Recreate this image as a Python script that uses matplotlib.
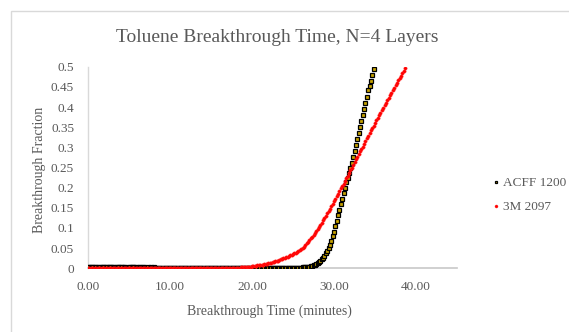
import matplotlib
matplotlib.use("Agg")
import matplotlib.pyplot as plt
import numpy as np
from matplotlib.patches import Rectangle

# Samples were logged every 10 seconds
SAMPLE_INTERVAL_MIN = 10 / 60

# ACFF 1200 breakthrough fraction, one value per sample
acff_1200 = [
    0.003, 0.004, 0.003, 0.003, 0.002, 0.004, 0.003, 0.003, 0.001, 0.003,
    0.004, 0.003, 0.002, 0.003, 0.003, 0.004, 0.003, 0.002, 0.003, 0.003,
    0.000, 0.003, 0.004, 0.003, 0.003, 0.002, 0.003, 0.003, 0.000, 0.000,
    0.003, 0.004, 0.003, 0.003, 0.002, 0.003, 0.000, 0.003, 0.003, 0.000,
    0.002, 0.003, 0.000, 0.000, 0.003, 0.000, 0.002, 0.000, 0.003,
    0, 0, 0, 0, 0, 0, 0, 0, 0, 0, 0, 0, 0, 0, 0, 0, 0,
    0, 0, 0, 0, 0, 0, 0, 0, 0, 0, 0, 0, 0, 0, 0, 0, 0,
    0, 0, 0, 0, 0, 0, 0, 0, 0, 0, 0, 0, 0, 0, 0, 0, 0,
    0, 0, 0, 0, 0, 0, 0, 0, 0, 0, 0, 0, 0, 0, 0, 0, 0,
    0, 0, 0, 0, 0, 0, 0, 0, 0, 0, 0, 0, 0, 0, 0, 0, 0,
    0, 0, 0, 0, 0, 0, 0, 0, 0, 0, 0, 0, 0, 0, 0, 0, 0,
    0.000, 0.000, 0.001, 0.000, 0.001,
    0.001, 0.002, 0.002, 0.002, 0.003, 0.003,
    0.004, 0.005, 0.006, 0.007, 0.009, 0.011,
    0.012, 0.015, 0.018, 0.022, 0.026, 0.031,
    0.037, 0.044, 0.051, 0.059, 0.068, 0.079,
    0.091, 0.104, 0.117, 0.131, 0.145, 0.159,
    0.173, 0.187, 0.200, 0.213, 0.225, 0.237,
    0.249, 0.262, 0.276, 0.290, 0.305, 0.320,
    0.335, 0.351, 0.366, 0.381, 0.396, 0.411,
    0.426, 0.441, 0.453, 0.465, 0.480, 0.494,
]

# 3M 2097 breakthrough fraction, one value per sample
m3_2097 = [
    0, 0, 0, 0, 0, 0, 0, 0, 0, 0, 0, 0, 0, 0, 0, 0, 0, 0, 0, 0,
    0, 0, 0, 0, 0, 0, 0, 0, 0, 0, 0, 0, 0, 0, 0, 0, 0, 0, 0, 0,
    0, 0, 0, 0, 0, 0, 0, 0, 0, 0, 0, 0, 0, 0, 0, 0, 0, 0, 0, 0,
    0, 0, 0, 0, 0, 0, 0, 0, 0, 0, 0, 0, 0, 0, 0, 0, 0, 0, 0, 0,
    0, 0, 0, 0, 0, 0, 0, 0, 0, 0, 0, 0, 0, 0, 0, 0, 0, 0, 0, 0,
    0, 0, 0, 0, 0, 0, 0, 0, 0,
    0.001, 0.001, 0.001, 0.002, 0.002,
    0.002, 0.003, 0.003, 0.003, 0.004, 0.004,
    0.005, 0.005, 0.006, 0.006, 0.007, 0.007,
    0.008, 0.008, 0.009, 0.010, 0.011, 0.011,
    0.012, 0.013, 0.014, 0.015, 0.016, 0.017,
    0.018, 0.019, 0.021, 0.022, 0.023, 0.025,
    0.026, 0.027, 0.029, 0.030, 0.032, 0.034,
    0.035, 0.037, 0.039, 0.041, 0.043, 0.045,
    0.048, 0.051, 0.054, 0.058, 0.062, 0.066,
    0.070, 0.074, 0.078, 0.083, 0.087, 0.092,
    0.097, 0.102, 0.107, 0.113, 0.119, 0.124,
    0.130, 0.136, 0.142, 0.148, 0.154, 0.160,
    0.166, 0.172, 0.179, 0.185, 0.191, 0.198,
    0.204, 0.210, 0.217, 0.223, 0.230, 0.237,
    0.243, 0.250, 0.256, 0.263, 0.270, 0.276,
    0.283, 0.290, 0.296, 0.302, 0.309, 0.316,
    0.322, 0.329, 0.335, 0.342, 0.348, 0.354,
    0.361, 0.367, 0.373, 0.380, 0.386, 0.392,
    0.398, 0.404, 0.411, 0.417, 0.423, 0.429,
    0.435, 0.441, 0.448, 0.454, 0.460, 0.466,
    0.472, 0.478, 0.484, 0.490, 0.496,
]

series_names = ["ACFF 1200", "3M 2097"]
x_ticks = [0, 10, 20, 30, 40]
y_ticks = [0, 0.05, 0.1, 0.15, 0.2, 0.25, 0.3, 0.35, 0.4, 0.45, 0.5]
y_tick_labels = ["0", "0.05", "0.1", "0.15", "0.2", "0.25", "0.3", "0.35",
                 "0.4", "0.45", "0.5"]

t_acff = np.arange(len(acff_1200)) * SAMPLE_INTERVAL_MIN
t_3m = np.arange(len(m3_2097)) * SAMPLE_INTERVAL_MIN

TEXT = "#595959"
FONT = "Liberation Serif"
W, H = 569, 332

fig = plt.figure(figsize=(W / 100, H / 100), dpi=100)
fig.patch.set_facecolor("white")

# chart-area border (top and left edges visible)
fig.add_artist(Rectangle((10.5 / W, -0.2), 2.0, 1.2 - 10.5 / H,
                         transform=fig.transFigure, fill=False,
                         edgecolor="#d9d9d9", lw=1.0))

ax = fig.add_axes([88 / W, (H - 268.3) / H, (457 - 88) / W, (268.3 - 66.7) / H])

ax.plot(t_acff, acff_1200, linestyle="none", marker="s", markersize=2.2,
        markerfacecolor="#c9a400", markeredgecolor="black",
        markeredgewidth=0.9, label=series_names[0], zorder=3)
ax.plot(t_3m, m3_2097, linestyle="none", marker="o", markersize=2.4,
        markerfacecolor="#ff0000", markeredgecolor="#ff2020",
        markeredgewidth=0.3, label=series_names[1], zorder=4)

ax.set_xlim(0, 45)
ax.set_ylim(0, 0.5)
ax.set_xticks(x_ticks)
ax.set_xticklabels([f"{v:.2f}" for v in x_ticks])
ax.set_yticks(y_ticks)
ax.set_yticklabels(y_tick_labels)
ax.tick_params(length=0, labelsize=9.5, labelcolor=TEXT)
ax.tick_params(axis="y", pad=10)
ax.tick_params(axis="x", pad=9)
for lab in ax.get_xticklabels() + ax.get_yticklabels():
    lab.set_family(FONT)

for s in ["top", "right"]:
    ax.spines[s].set_visible(False)
ax.spines["left"].set_color("#d9d9d9")
ax.spines["bottom"].set_color("#c8c8c8")
ax.spines["left"].set_linewidth(1.0)
ax.spines["bottom"].set_linewidth(1.2)

fig.text(277 / W, 1 - 37 / H, "Toluene Breakthrough Time, N=4 Layers",
         ha="center", va="center", fontsize=14, color=TEXT, family=FONT)
fig.text(269 / W, 1 - 311 / H, "Breakthrough Time (minutes)",
         ha="center", va="center", fontsize=10, color=TEXT, family=FONT)
fig.text(40 / W, 1 - 170 / H, "Breakthrough Fraction", rotation=90,
         ha="center", va="center", fontsize=10, color=TEXT, family=FONT)

leg = fig.legend(loc="upper left", bbox_to_anchor=(494 / W, 1 - 177 / H),
                 frameon=False, handlelength=0.35, handletextpad=0.3,
                 labelspacing=0.9, markerscale=0.9, borderpad=0,
                 borderaxespad=0, prop={"family": FONT, "size": 9.5})
for txt in leg.get_texts():
    txt.set_color(TEXT)

fig.savefig("out.png", dpi=100)
